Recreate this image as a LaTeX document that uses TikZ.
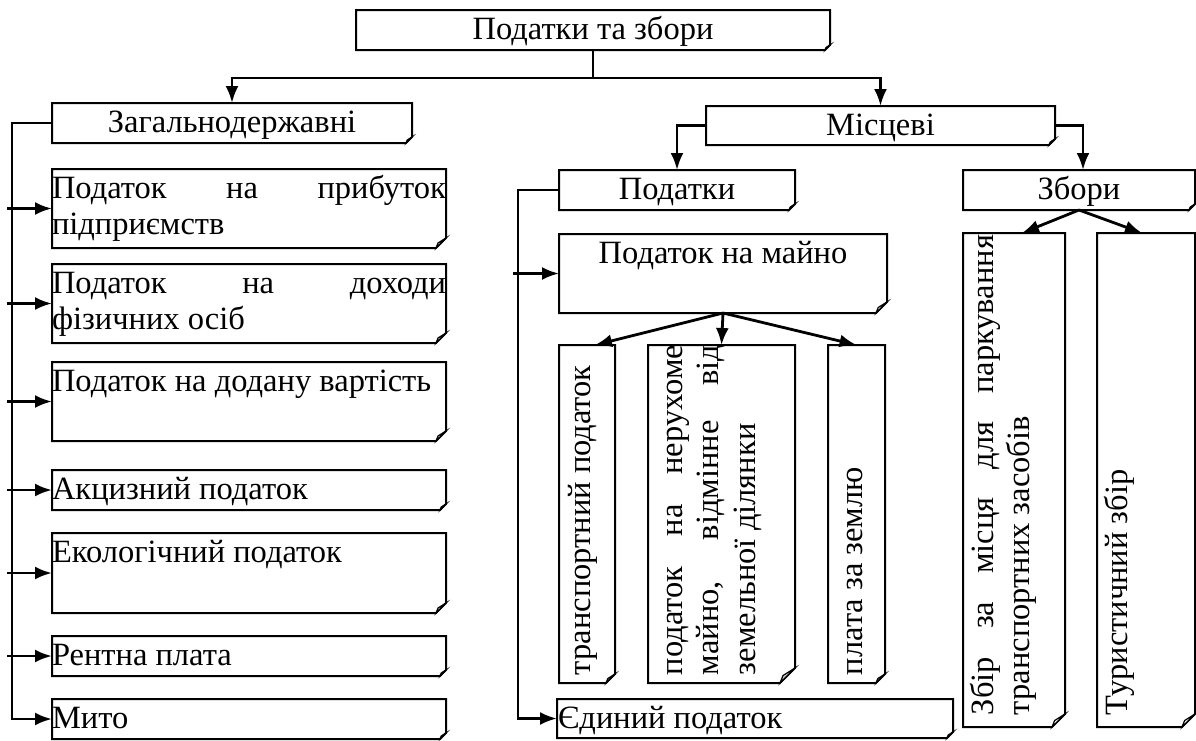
\documentclass[tikz,border=0pt]{standalone}
\usepackage{fontspec}
\setmainfont{Liberation Serif}
\usetikzlibrary{arrows.meta}
\newcommand\dfont{\fontsize{32.5}{36.5}\selectfont}
\newcommand\mystrut{\rule{0pt}{29pt}}
\tikzset{
  frame/.style={draw=black, line width=2pt, line join=miter},
  foldfill/.style={draw=black, line width=1.2pt},
  boxshape/.style={rectangle, inner sep=0pt, outer sep=0pt, draw=none},
  conn/.style={line width=2.8pt},
  arr/.style={conn, -{Latex[length=17pt,width=13pt]}},
  txt/.style={inner sep=0pt, outer sep=0pt, font=\dfont, align=left},
}
% name, x1, y1, x2, y2, fold size, fold fill
\newcommand\mkbox[7]{%
  \node[boxshape, minimum width={#4-#2}, minimum height={#5-#3}] (#1) at ({(#2+#4)/2},{(#3+#5)/2}) {};
  \draw[frame] (#1.north west) -- (#1.north east) -- ([yshift=#6pt]#1.south east)
    -- ([xshift=-#6pt]#1.south east) -- (#1.south west) -- cycle;
  \filldraw[foldfill, fill=#7] ([yshift=#6pt]#1.south east)
    -- ([xshift=-0.8*#6pt,yshift=0.5*#6pt]#1.south east)
    -- ([xshift=-#6pt]#1.south east) -- cycle;
}
\begin{document}
\begin{tikzpicture}[x=1pt,y=-1pt]
\useasboundingbox (0,0) rectangle (1196,740);

% boxes
\mkbox{T}{356}{10}{830}{50}{5}{white}
\mkbox{Z}{52}{103}{412}{143}{6}{white}
\mkbox{M}{706}{106}{1055}{145}{6}{white}
\mkbox{L1}{52}{169}{446}{248}{10}{white}
\mkbox{L2}{52}{264}{446}{343}{10}{white}
\mkbox{L3}{52}{362}{446}{441}{10}{white}
\mkbox{L4}{52}{470}{446}{510}{6}{white}
\mkbox{L5}{52}{533}{446}{613}{10}{white}
\mkbox{L6}{52}{636}{446}{676}{6}{white}
\mkbox{L7}{52}{699}{446}{739}{6}{white}
\mkbox{P}{559}{170}{795}{210}{6}{white}
\mkbox{Zb}{963}{170}{1195}{210}{6}{white}
\mkbox{PM}{559}{234}{887}{313}{11}{white}
\mkbox{S1}{559}{345}{615}{683}{9}{white}
\mkbox{S2}{648}{345}{795}{683}{15}{gray!35}
\mkbox{S3}{828}{345}{885}{683}{9}{white}
\mkbox{E}{557}{699}{953}{738}{6}{white}
\mkbox{C1}{963}{233}{1065}{727}{13}{white}
\mkbox{C2}{1097}{233}{1195}{727}{13}{white}

% texts
\node[txt, anchor=base] (Tt) at ([yshift=-29pt]T.north) {Податки та збори};
\node[txt, anchor=base] (Zt) at ([yshift=-29pt]Z.north) {Загальнодержавні};
\node[txt, anchor=base] (Mt) at ([yshift=-29pt]M.north) {Місцеві};
\node[txt, anchor=base] (Pt) at ([yshift=-29pt]P.north) {Податки};
\node[txt, anchor=base] (Zbt) at ([yshift=-29pt]Zb.north) {Збори};
\node[txt, anchor=base] (PMt) at ([yshift=-29pt]PM.north) {Податок на майно};

\node[txt, anchor=north west] (L1t) at (L1.north west) {\mystrut\makebox[394pt][s]{Податок на прибуток}\\підприємств};
\node[txt, anchor=north west] (L2t) at (L2.north west) {\mystrut\makebox[394pt][s]{Податок на доходи}\\фізичних осіб};
\node[txt, anchor=north west] (L3t) at (L3.north west) {\mystrut Податок на додану вартість};
\node[txt, anchor=north west] (L4t) at (L4.north west) {\mystrut Акцизний податок};
\node[txt, anchor=north west] (L5t) at (L5.north west) {\mystrut Екологічний податок};
\node[txt, anchor=north west] (L6t) at (L6.north west) {\mystrut Рентна плата};
\node[txt, anchor=north west] (L7t) at (L7.north west) {\mystrut Мито};
\node[txt, anchor=north west] (Et) at ([xshift=1pt]E.north west) {\mystrut Єдиний податок};

\node[txt, rotate=90, anchor=base west] (S1t) at (590,675) {транспортний податок};
\node[txt, rotate=90, anchor=north west] (S2t) at (653,675) {\mystrut\makebox[330pt][s]{податок на нерухоме}\\\makebox[330pt][s]{майно, відмінне від}\\земельної ділянки};
\node[txt, rotate=90, anchor=base west] (S3t) at (862,675) {плата за землю};
\node[txt, rotate=90, anchor=north west] (C1t) at (964,715) {\mystrut\makebox[480pt][s]{Збір за місця для паркування}\\транспортних засобів};
\node[txt, rotate=90, anchor=base west] (C2t) at (1127,715) {Туристичний збір};

% connectors
\draw[conn] (T.south) -- ++(0,28) coordinate (hub);
\draw[arr] (hub) -| (Z.north);
\draw[arr] (hub) -| (M.north);
\draw[arr] (M.west) -| (P.north);
\draw[arr] (M.east) -| ([xshift=4pt]Zb.north);

\draw[arr] (Z.west) -- ++(-40,0) |- (L7.west);
\foreach \b in {L1,L2,L3,L4,L5,L6}
  \draw[arr] ([xshift=-45pt]\b.west) -- (\b.west);

\draw[arr] (P.west) -- ++(-41,0) |- (E.west);
\draw[arr] ([xshift=-46pt]PM.west) -- (PM.west);

\draw[arr] (PM.south) -- ([xshift=8pt]S1.north);
\draw[arr] (PM.south) -- (S2.north);
\draw[arr] (PM.south) -- (S3.north);

\draw[arr] (Zb.south) -- ([xshift=8pt]C1.north);
\draw[arr] (Zb.south) -- ([xshift=-4pt]C2.north);
\end{tikzpicture}
\end{document}
